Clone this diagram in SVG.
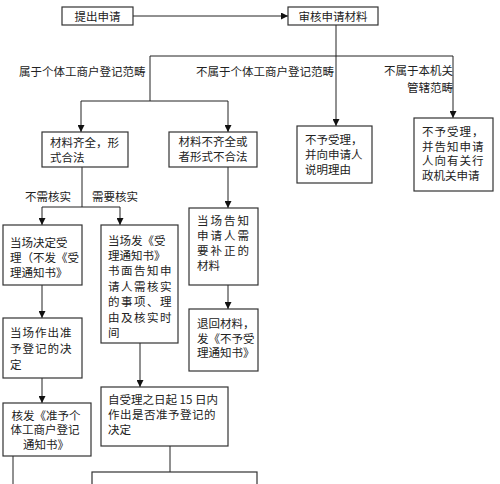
<svg xmlns="http://www.w3.org/2000/svg" width="500" height="484" viewBox="0 0 500 484">
<defs>
<marker id="arr" viewBox="0 0 8 8" refX="8" refY="4" markerWidth="7" markerHeight="7" markerUnits="userSpaceOnUse" orient="auto">
<path d="M0,0 L8,4 L0,8 Z" fill="#111"/>
</marker>
</defs>
<style>
rect{fill:#fff;stroke:#333;stroke-width:1.2}
text{font-family:"Noto Sans CJK SC","Liberation Sans",sans-serif;font-size:11.5px;fill:#222}
.c{text-anchor:middle}
.e{text-anchor:end}
.ln{fill:none;stroke:#222;stroke-width:1}
.a{fill:none;stroke:#222;stroke-width:1;marker-end:url(#arr)}
</style>
<rect x="0" y="0" width="500" height="484" style="fill:#fff;stroke:none"/>
<g id="connectors">
<line class="a" x1="133" y1="16" x2="288" y2="16"/>
<polyline class="ln" points="336,25 336,56"/>
<polyline class="ln" points="150,56 453,56"/>
<polyline class="ln" points="150,56 150,101"/>
<polyline class="ln" points="81,101 228,101"/>
<line class="a" x1="81" y1="101" x2="81" y2="132"/>
<line class="a" x1="228" y1="101" x2="228" y2="132"/>
<line class="a" x1="336" y1="56" x2="336" y2="126"/>
<line class="a" x1="453" y1="56" x2="453" y2="118"/>
<polyline class="ln" points="82,167 82,207"/>
<polyline class="ln" points="42,207 120,207"/>
<line class="a" x1="42" y1="207" x2="42" y2="225"/>
<line class="a" x1="120" y1="207" x2="120" y2="225"/>
<line class="a" x1="228" y1="167" x2="228" y2="208"/>
<line class="a" x1="228" y1="285" x2="228" y2="309"/>
<line class="a" x1="42" y1="285" x2="42" y2="318"/>
<line class="a" x1="42" y1="378" x2="42" y2="403"/>
<line class="a" x1="140" y1="343" x2="140" y2="387"/>
<polyline class="ln" points="13,456 13,484"/>
<polyline class="ln" points="170,446 170,472"/>
<text x="19" y="75.5">属于个体工商户登记范畴</text>
<text x="196" y="75.5">不属于个体工商户登记范畴</text>
<text class="e" x="453" y="74.5">不属于本机关</text>
<text class="e" x="453" y="91.5">管辖范畴</text>
<text x="25" y="200.5">不需核实</text>
<text x="92" y="200.5">需要核实</text>
</g>
<g id="n1"><rect x="62" y="7" width="71" height="18"/><text class="c" x="97.5" y="20.5">提出申请</text></g>
<g id="n2"><rect x="288" y="7" width="90" height="18"/><text class="c" x="333" y="20.5">审核申请材料</text></g>
<g id="n3"><rect x="42" y="132" width="86" height="35"/><text x="50" y="146.5">材料齐全，形</text><text x="50" y="161.5">式合法</text></g>
<g id="n4"><rect x="169" y="132" width="88" height="35"/><text class="c" x="213" y="145.5">材料不齐全或</text><text class="c" x="213" y="160.5">者形式不合法</text></g>
<g id="n5"><rect x="297" y="126" width="75" height="57"/><text x="305" y="143.5">不予受理，</text><text x="305" y="158.5">并向申请人</text><text x="305" y="173.5">说明理由</text></g>
<g id="n6"><rect x="414" y="118" width="79" height="73"/><text x="422" y="136" letter-spacing="1">不予受理，</text><text x="422" y="150.5" letter-spacing="1">并告知申请</text><text x="422" y="165" letter-spacing="1">人向有关行</text><text x="422" y="179.5">政机关申请</text></g>
<g id="n7"><rect x="3" y="225" width="79" height="60"/><text x="10" y="246.5">当场决定受</text><text x="10" y="261.5">理（不发《受</text><text x="10" y="276.5">理通知书》</text></g>
<g id="n8"><rect x="101" y="225" width="77" height="118"/><text x="108" y="244.5">当场发《受</text><text x="108" y="259.5">理通知书》</text><text x="108" y="274.5" letter-spacing="1.5">书面告知申</text><text x="108" y="290.5" letter-spacing="1.5">请人需核实</text><text x="108" y="305.5" letter-spacing="1.5">的事项、理</text><text x="108" y="321.5" letter-spacing="1.5">由及核实时</text><text x="108" y="336.5">间</text></g>
<g id="n9"><rect x="189" y="208" width="69" height="77"/><text x="197" y="224.5" letter-spacing="2">当场告知</text><text x="197" y="239.5" letter-spacing="2">申请人需</text><text x="197" y="254.5" letter-spacing="2">要补正的</text><text x="197" y="269.5">材料</text></g>
<g id="n10"><rect x="189" y="309" width="69" height="62"/><text x="197" y="327.5">退回材料，</text><text x="197" y="342.5">发《不予受</text><text x="197" y="357">理通知书》</text></g>
<g id="n11"><rect x="3" y="318" width="79" height="60"/><text x="10" y="336.5" letter-spacing="1">当场作出准</text><text x="10" y="353" letter-spacing="1">予登记的决</text><text x="10" y="368.5">定</text></g>
<g id="n12"><rect x="3" y="403" width="88" height="53"/><text class="c" x="46" y="419.5">核发《准予个</text><text class="c" x="45" y="434">体工商户登记</text><text class="c" x="46" y="448.5">通知书》</text></g>
<g id="n13"><rect x="101" y="387" width="127" height="59"/><text x="108" y="404">自受理之日起 15 日内</text><text x="108" y="418.5" letter-spacing="0.5">作出是否准予登记的</text><text x="108" y="433.5">决定</text></g>
<g id="n14"><rect x="92" y="472" width="165" height="20"/></g>
</svg>
